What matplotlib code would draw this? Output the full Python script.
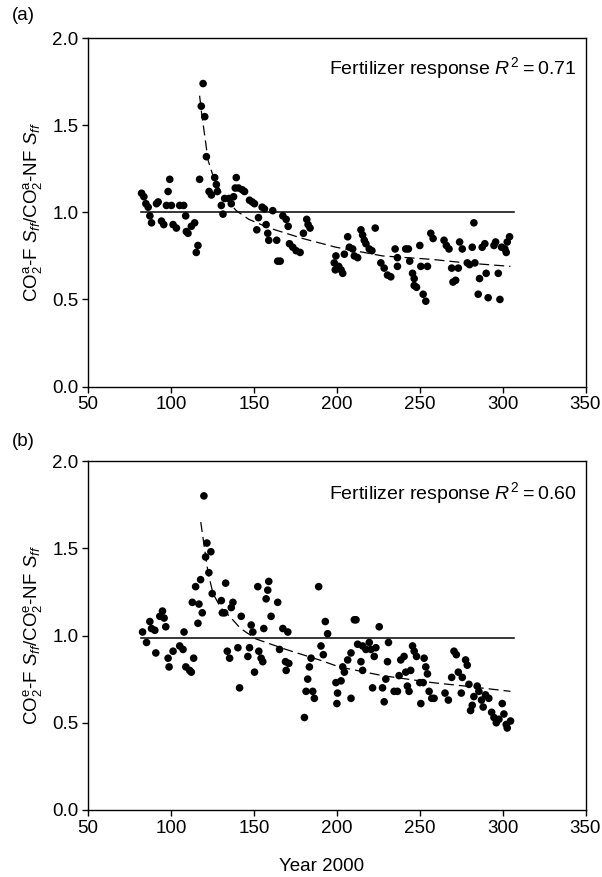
import matplotlib
matplotlib.use("Agg")
import matplotlib.pyplot as plt

plt.rcParams['font.family'] = ['Liberation Sans', 'DejaVu Sans']
plt.rcParams['mathtext.fontset'] = 'custom'
plt.rcParams['mathtext.rm'] = 'Liberation Sans'
plt.rcParams['mathtext.it'] = 'Liberation Sans:italic'
plt.rcParams['mathtext.bf'] = 'Liberation Sans:bold'

# ---------------- Panel (a) data ----------------
a_x = [82.3, 83.7, 84.9, 86.3, 91.3, 92.3, 87.3, 88.3, 94.3, 95.7, 98.3, 99.3, 97.3, 100.3,
       101.3, 103.3, 105.3, 107.7, 108.9, 109.3, 110.3, 112.3, 114.3, 116.3, 115.3, 117.3,
       118.3, 119.4, 120.4, 121.4, 123.0, 124.4, 126.4, 127.4, 128.0, 130.4, 131.4, 132.4,
       135.0, 136.4, 137.8, 139.4, 138.8, 140.8, 143.0, 144.4, 147.4, 149.0, 150.4, 151.8,
       152.8, 155.0, 156.4, 157.4, 158.4, 159.0, 161.4, 163.8, 164.4, 165.9, 167.5, 169.5,
       170.7, 171.5, 173.5, 175.5, 177.9, 179.9, 181.9, 182.7, 183.9,
       199.5, 198.5, 199.1, 201.2, 202.6, 203.6, 204.6, 206.6, 207.6, 209.6, 210.6, 212.6,
       214.6, 215.6, 216.6, 217.6, 219.6, 221.2, 223.2, 226.6, 228.6, 230.6, 232.6, 235.2,
       236.6, 236.6, 241.6, 243.2, 244.0, 245.7, 246.7, 246.7, 248.1, 250.1, 250.7, 252.1,
       253.7, 254.7, 256.7, 258.1, 264.7, 266.1, 267.7, 269.3, 270.1, 271.7, 273.3, 274.1,
       275.7, 278.7, 280.1, 281.7, 282.7, 283.3, 285.3, 286.1, 287.7, 289.3, 290.1, 291.3,
       294.8, 295.8, 297.4, 298.4, 299.4, 301.4, 302.2, 302.8, 304.2]
a_y = [1.11, 1.09, 1.05, 1.03, 1.05, 1.06, 0.98, 0.94, 0.95, 0.93, 1.12, 1.19, 1.04, 1.04,
       0.93, 0.91, 1.04, 1.04, 0.98, 0.89, 0.88, 0.92, 0.94, 0.81, 0.77, 1.19,
       1.61, 1.74, 1.55, 1.32, 1.12, 1.10, 1.20, 1.16, 1.12, 1.04, 0.99, 1.08,
       1.08, 1.05, 1.09, 1.20, 1.14, 1.14, 1.13, 1.12, 1.07, 1.06, 1.05, 0.90,
       0.97, 1.03, 1.02, 0.93, 0.88, 0.84, 1.01, 0.84, 0.72, 0.72, 0.98, 0.96,
       0.92, 0.82, 0.80, 0.78, 0.77, 0.88, 0.96, 0.93, 0.91,
       0.75, 0.71, 0.67, 0.69, 0.67, 0.65, 0.76, 0.86, 0.80, 0.79, 0.75, 0.74,
       0.90, 0.87, 0.84, 0.82, 0.79, 0.78, 0.91, 0.71, 0.68, 0.64, 0.63, 0.79,
       0.74, 0.69, 0.79, 0.79, 0.72, 0.65, 0.62, 0.58, 0.57, 0.81, 0.69, 0.53,
       0.49, 0.69, 0.88, 0.85, 0.84, 0.81, 0.79, 0.68, 0.60, 0.61, 0.68, 0.83,
       0.79, 0.71, 0.70, 0.80, 0.94, 0.71, 0.53, 0.62, 0.80, 0.82, 0.65, 0.51,
       0.81, 0.83, 0.65, 0.50, 0.80, 0.79, 0.77, 0.83, 0.86]
a_fit_x = [117.3, 118.5, 120.4, 122.4, 125.4, 131.0, 139.4, 147.0, 159.4, 179.5, 199.5,
           227.6, 257.6, 277.6, 304.7]
a_fit_y = [1.67, 1.57, 1.44, 1.30, 1.21, 1.10, 1.01, 0.96, 0.91, 0.85, 0.80,
           0.75, 0.73, 0.71, 0.69]
a_ref_x = [82.0, 307.0]
a_ref_y = [1.0, 1.0]
a_text = "Fertilizer response $R^2$\u2009=\u20090.71"

# ---------------- Panel (b) data ----------------
b_x = [82.9, 85.3, 87.3, 88.3, 90.3, 90.9, 93.3, 94.9, 95.9, 96.9, 98.3, 98.9, 101.3, 105.3,
       107.3, 107.9, 109.0, 111.3, 112.3, 113.7, 112.9, 114.9, 116.3, 116.9, 117.9, 118.9,
       119.9, 120.9, 121.7, 124.1, 122.9, 124.9, 130.4, 131.0, 132.4, 133.0, 134.0, 135.4,
       136.4, 137.4, 140.4, 141.4, 142.4, 146.4, 147.4, 148.4, 149.4, 150.4, 152.4, 153.0,
       154.4, 155.4, 156.0, 157.4, 158.4, 159.0, 160.4, 164.4, 165.5, 167.5, 169.1, 169.5,
       170.5, 171.1,
       180.5, 181.5, 182.5, 183.5, 184.5, 185.5, 186.5, 189.1, 190.5, 191.9, 193.1, 194.5,
       199.5, 200.5, 200.1, 202.6, 203.6, 204.6, 206.6, 208.6, 208.6, 210.6, 211.6, 212.6,
       214.6, 215.6, 215.6, 217.6, 219.6, 220.6, 221.6, 222.6, 223.6, 225.6, 227.6, 228.6,
       229.6, 230.6, 231.2, 234.6, 236.6, 237.6, 238.6, 240.6, 241.6, 242.6, 243.6, 244.6,
       245.7, 246.7, 248.1, 250.1, 250.7, 252.1, 252.7, 253.7, 254.7, 255.7, 257.3, 258.7,
       265.3, 267.3, 269.3, 270.7, 272.1, 273.3, 275.1, 275.7, 277.7, 278.7, 279.7, 280.7,
       281.7, 282.7, 284.7, 285.7, 287.3, 288.3, 289.7, 291.7, 293.4, 294.8, 296.2, 297.8,
       299.8, 300.8, 302.2, 302.8, 304.8]
b_y = [1.02, 0.96, 1.08, 1.04, 1.03, 0.90, 1.11, 1.14, 1.10, 1.05, 0.87, 0.82, 0.91, 0.94,
       0.92, 1.02, 0.82, 0.80, 0.79, 0.87, 1.19, 1.28, 1.07, 1.18, 1.32, 1.13,
       1.80, 1.45, 1.53, 1.48, 1.36, 1.24, 1.20, 1.13, 1.13, 1.30, 0.91, 0.87,
       1.16, 1.19, 0.93, 0.70, 1.11, 0.88, 0.93, 1.06, 1.02, 0.79, 1.28, 0.91,
       0.87, 0.85, 1.04, 1.21, 1.26, 1.31, 1.11, 1.19, 0.92, 1.04, 0.85, 0.80,
       1.02, 0.84,
       0.53, 0.68, 0.75, 0.82, 0.87, 0.68, 0.64, 1.28, 0.94, 0.89, 1.08, 1.01,
       0.73, 0.67, 0.61, 0.74, 0.82, 0.79, 0.86, 0.90, 0.64, 1.09, 1.09, 0.95,
       0.85, 0.80, 0.94, 0.92, 0.96, 0.92, 0.70, 0.88, 0.93, 1.05, 0.70, 0.62,
       0.75, 0.85, 0.96, 0.68, 0.68, 0.77, 0.86, 0.88, 0.79, 0.71, 0.68, 0.80,
       0.94, 0.91, 0.88, 0.73, 0.61, 0.73, 0.87, 0.82, 0.78, 0.68, 0.64, 0.64,
       0.67, 0.63, 0.76, 0.91, 0.89, 0.79, 0.67, 0.76, 0.86, 0.83, 0.72, 0.57,
       0.60, 0.65, 0.71, 0.68, 0.63, 0.59, 0.66, 0.64, 0.56, 0.53, 0.50, 0.52,
       0.61, 0.55, 0.49, 0.47, 0.51]
b_fit_x = [118.0, 120.4, 122.4, 125.4, 130.0, 135.4, 142.0, 151.4, 169.4, 189.5, 201.5,
           227.6, 257.6, 277.6, 304.7]
b_fit_y = [1.65, 1.49, 1.36, 1.24, 1.16, 1.11, 1.04, 0.98, 0.92, 0.86, 0.82,
           0.77, 0.73, 0.71, 0.68]
b_ref_x = [82.0, 307.0]
b_ref_y = [0.985, 0.985]
b_text = "Fertilizer response $R^2$\u2009=\u20090.60"

x_ticks = [50, 100, 150, 200, 250, 300, 350]
y_ticks = [0.0, 0.5, 1.0, 1.5, 2.0]
y_labels = ["CO$_2^{\\mathrm{a}}$-F $S_{ff}$/CO$_2^{\\mathrm{a}}$-NF $S_{ff}$",
            "CO$_2^{\\mathrm{e}}$-F $S_{ff}$/CO$_2^{\\mathrm{e}}$-NF $S_{ff}$"]
panel_tags = ["(a)", "(b)"]
x_label = "Year 2000"

FS = 13.5

fig = plt.figure(figsize=(6.02, 8.77), dpi=100)
W, H = 602.0, 877.0
ax1 = fig.add_axes([88 / W, 1 - 386.5 / H, (585.5 - 88) / W, (386.5 - 38.3) / H])
ax2 = fig.add_axes([88 / W, 1 - 810 / H, (585.5 - 88) / W, (810 - 461) / H])

panels = [
    (ax1, a_x, a_y, a_fit_x, a_fit_y, a_ref_x, a_ref_y, a_text, 0.915),
    (ax2, b_x, b_y, b_fit_x, b_fit_y, b_ref_x, b_ref_y, b_text, 0.908),
]

for i, (ax, xs, ys, fx, fy, rx, ry, txt, ty) in enumerate(panels):
    ax.plot(rx, ry, color='black', lw=1.1, zorder=2)
    ax.scatter(xs, ys, s=30, color='black', edgecolors='none', zorder=3)
    ax.plot(fx, fy, color='black', lw=0.9, dashes=(8, 4), zorder=4)
    ax.set_xlim(50, 350)
    ax.set_ylim(0, 2.0)
    ax.set_xticks(x_ticks)
    ax.set_yticks(y_ticks)
    ax.set_yticklabels([f"{v:.1f}" for v in y_ticks])
    ax.tick_params(direction='out', length=4, width=1, labelsize=FS,
                   top=False, right=False, pad=3)
    for sp in ax.spines.values():
        sp.set_linewidth(1.0)
    ax.set_ylabel(y_labels[i], fontsize=FS)
    ax.yaxis.set_label_coords(-0.088, 0.5)
    ax.text(0.982, ty, txt, transform=ax.transAxes, ha='right', va='center',
            fontsize=14)

ax2.set_xlabel(x_label, fontsize=FS)
ax2.xaxis.set_label_coords(0.47, -0.138)

fig.text(12 / W, 1 - 16 / H, panel_tags[0], fontsize=FS, ha='left', va='center')
fig.text(12 / W, 1 - 441 / H, panel_tags[1], fontsize=FS, ha='left', va='center')

fig.savefig("out.png", dpi=100)
